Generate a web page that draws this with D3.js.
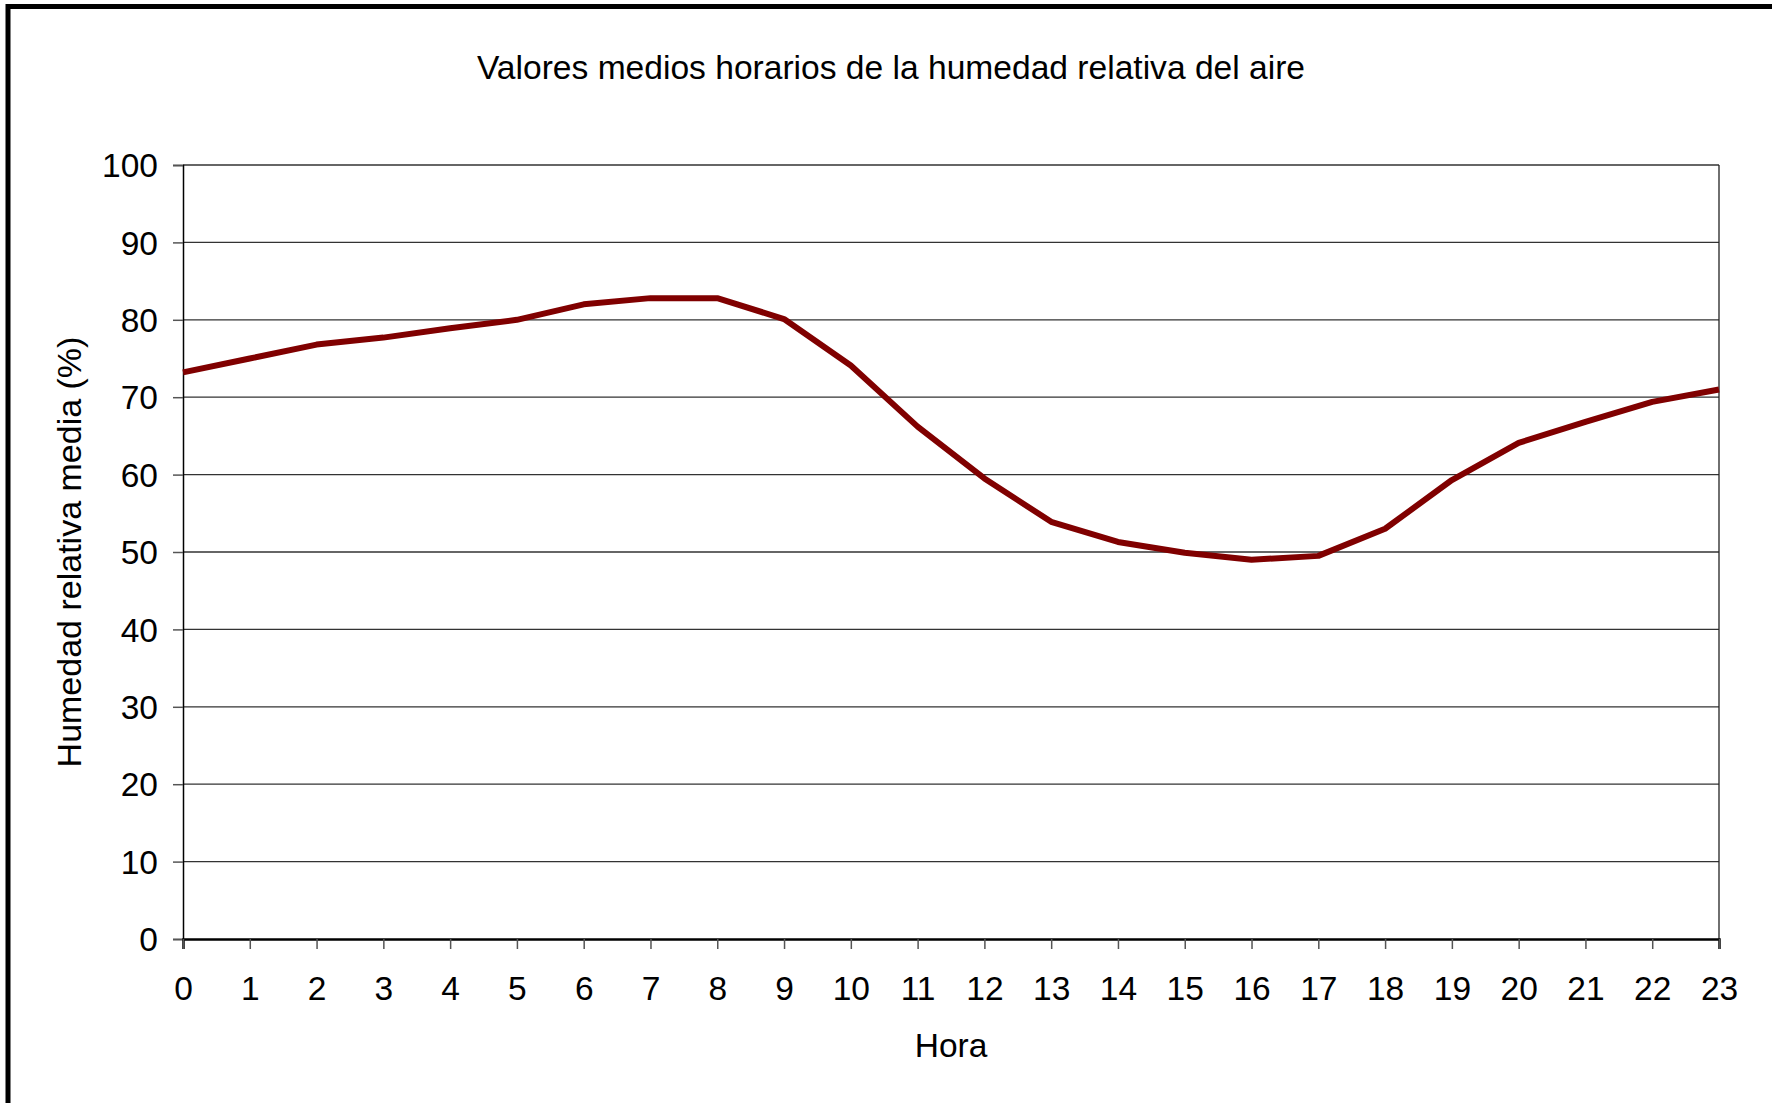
<!DOCTYPE html>
<html>
<head>
<meta charset="utf-8">
<script src="https://cdn.jsdelivr.net/npm/d3@7"></script>
<style>
  body { margin: 0; background: #fff; }
  svg text { font-family: "Liberation Sans", Arial, sans-serif; fill: #000; }
</style>
</head>
<body>
<div id="chart"></div>
<script>
(function() {
    var width = 1772;
    var height = 1103;

    // hour of day and mean relative humidity (%)
    var horas = d3.range(0, 24);
    var humedad = [73.2, 75.0, 76.8, 77.7, 78.9, 80.0, 82.0, 82.8, 82.8, 80.1, 74.1, 66.2,
                   59.5, 53.9, 51.3, 49.9, 49.0, 49.5, 53.0, 59.3, 64.1, 66.8, 69.4, 71.0];
    var yTicks = [0, 10, 20, 30, 40, 50, 60, 70, 80, 90, 100];

    var titulo = "Valores medios horarios de la humedad relativa del aire";
    var xTitulo = "Hora";
    var yTitulo = "Humedad relativa media (%)";

    var margin = {left: 183, right: 1772 - 1719, top: 165, bottom: 1103 - 939};
    var plotW = width - margin.left - margin.right;
    var plotH = height - margin.top - margin.bottom;

    var svg = d3.select("#chart").append("svg")
        .attr("width", width)
        .attr("height", height);

    // outer frame (runs off right and bottom edges)
    svg.append("rect")
        .attr("x", 8).attr("y", 6.5)
        .attr("width", width + 20).attr("height", height + 20)
        .attr("fill", "#fff")
        .attr("stroke", "#000")
        .attr("stroke-width", 5);

    var x = d3.scaleLinear().domain([0, 23]).range([0, plotW]);
    var y = d3.scaleLinear().domain([0, 100]).range([plotH, 0]);

    var g = svg.append("g")
        .attr("transform", "translate(" + margin.left + "," + margin.top + ")");

    // gridlines
    g.append("g")
        .selectAll("line")
        .data(yTicks.filter(function(d) { return d > 0; }))
        .enter().append("line")
        .attr("x1", 0).attr("x2", plotW)
        .attr("y1", function(d) { return y(d); })
        .attr("y2", function(d) { return y(d); })
        .attr("stroke", "#333")
        .attr("stroke-width", 1.3);

    // right border of plot
    g.append("line")
        .attr("x1", plotW).attr("x2", plotW)
        .attr("y1", 0).attr("y2", plotH)
        .attr("stroke", "#222").attr("stroke-width", 1.3);

    var yAxis = g.append("g")
        .call(d3.axisLeft(y).tickValues(yTicks).tickSize(10).tickPadding(15));
    yAxis.select(".domain").attr("stroke", "#000").attr("stroke-width", 1.5);
    yAxis.selectAll(".tick line").attr("stroke", "#555").attr("stroke-width", 1.5);
    yAxis.selectAll("text")
        .style("font-size", "33.5px")
        .attr("dy", "0.35em");

    var xAxis = g.append("g")
        .attr("transform", "translate(0," + plotH + ")")
        .call(d3.axisBottom(x).tickValues(horas).tickFormat(d3.format("d")).tickSize(10).tickPadding(27));
    xAxis.select(".domain").attr("stroke", "#000").attr("stroke-width", 2.5);
    xAxis.selectAll(".tick line").attr("stroke", "#555").attr("stroke-width", 1.5);
    xAxis.selectAll("text")
        .style("font-size", "33.5px")
        .attr("dy", "0.71em");

    var line = d3.line()
        .x(function(d, i) { return x(horas[i]); })
        .y(function(d) { return y(d); });

    g.append("path")
        .datum(humedad)
        .attr("d", line)
        .attr("fill", "none")
        .attr("stroke", "#800000")
        .attr("stroke-width", 6)
        .attr("stroke-linejoin", "round");

    svg.append("text")
        .attr("x", 891).attr("y", 79)
        .attr("text-anchor", "middle")
        .style("font-size", "33.6px")
        .text(titulo);

    svg.append("text")
        .attr("x", margin.left + plotW / 2).attr("y", 1057)
        .attr("text-anchor", "middle")
        .style("font-size", "33.5px")
        .text(xTitulo);

    svg.append("text")
        .attr("transform", "translate(81," + (margin.top + plotH / 2) + ") rotate(-90)")
        .attr("text-anchor", "middle")
        .style("font-size", "34px")
        .text(yTitulo);
})();
</script>
</body>
</html>
